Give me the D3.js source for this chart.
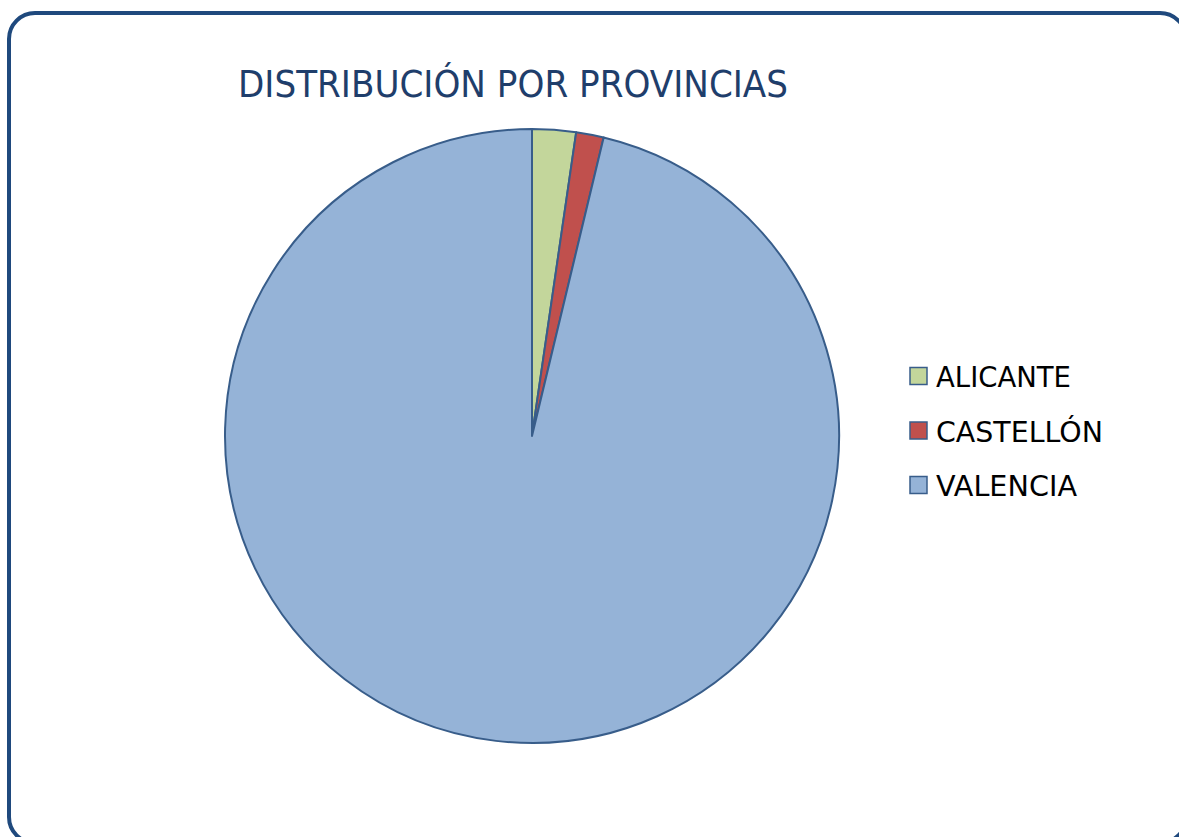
<!DOCTYPE html>
<html><head><meta charset="utf-8">
<script src="https://cdn.jsdelivr.net/npm/d3@7"></script>
<style>html,body{margin:0;padding:0;background:#fff;}svg{display:block;}</style>
</head><body>
<svg id="c" width="1179" height="837"></svg>
<script>
const categories = ["ALICANTE", "CASTELLÓN", "VALENCIA"];
const values = [2.3, 1.45, 96.25];
const colors = ["#C3D69B", "#C0504D", "#95B3D7"];
const title = "DISTRIBUCIÓN POR PROVINCIAS";

const svg = d3.select("#c");
svg.append("rect").attr("x", 9).attr("y", 13).attr("width", 1177).attr("height", 830)
  .attr("rx", 26).attr("fill", "#fff").attr("stroke", "#1F497D").attr("stroke-width", 4);

svg.append("text").attr("x", 238).attr("y", 97).text(title)
  .attr("font-family", "DejaVu Sans").attr("font-size", 38).attr("fill", "#1F3E6B")
  .attr("textLength", 550).attr("lengthAdjust", "spacingAndGlyphs");

const data = categories.map((c, i) => ({cat: c, v: values[i]}));
const pie = d3.pie().value(d => d.v).sort(null);
const arc = d3.arc().innerRadius(0).outerRadius(307);
const color = d3.scaleOrdinal().domain(categories).range(colors);

svg.append("g").attr("transform", "translate(532,436)")
  .selectAll("path").data(pie(data)).join("path")
  .attr("d", arc).attr("fill", d => color(d.data.cat))
  .attr("stroke", "#385D8A").attr("stroke-width", 2).attr("stroke-linejoin", "round");

const ly = d3.scalePoint().domain(categories).range([376, 485]);
const lg = svg.append("g").selectAll("g").data(categories).join("g")
  .attr("transform", d => `translate(909,${ly(d)})`);
lg.append("rect").attr("x", 1).attr("y", -8.5).attr("width", 17).attr("height", 17)
  .attr("fill", d => color(d)).attr("stroke", "#385D8A").attr("stroke-width", 1.5);
const lens = {"ALICANTE": 135, "CASTELLÓN": 167, "VALENCIA": 141};
lg.append("text").attr("x", 27).attr("y", 11).text(d => d)
  .attr("font-family", "DejaVu Sans").attr("font-size", 29).attr("fill", "#000")
  .attr("textLength", d => lens[d]).attr("lengthAdjust", "spacingAndGlyphs");
</script>
</body></html>
